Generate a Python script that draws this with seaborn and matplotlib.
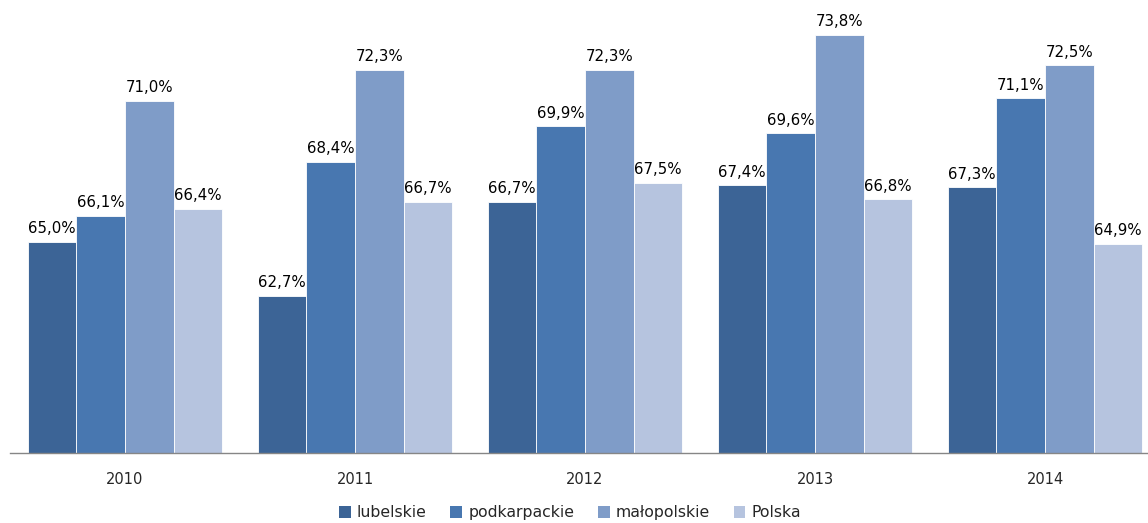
import matplotlib
matplotlib.use("Agg")
import matplotlib.pyplot as plt
import seaborn as sns
import pandas as pd
from matplotlib.patches import Patch

years = ["2010", "2011", "2012", "2013", "2014"]
series = ["lubelskie", "podkarpackie", "małopolskie", "Polska"]
lubelskie = [65.0, 62.7, 66.7, 67.4, 67.3]
podkarpackie = [66.1, 68.4, 69.9, 69.6, 71.1]
malopolskie = [71.0, 72.3, 72.3, 73.8, 72.5]
polska = [66.4, 66.7, 67.5, 66.8, 64.9]
colors = ["#3C6496", "#4877B0", "#7F9CC8", "#B6C4DF"]

rows = []
for name, vals in zip(series, [lubelskie, podkarpackie, malopolskie, polska]):
    for y, v in zip(years, vals):
        rows.append({"rok": y, "seria": name, "wartosc": v})
df = pd.DataFrame(rows)

sns.set_style("white")
plt.rcParams["font.family"] = ["DejaVu Sans"]

W, H = 1148, 523
fig = plt.figure(figsize=(W / 100, H / 100), dpi=100)
ax = fig.add_axes([10 / W, 70 / H, 1150 / W, 453 / H])

sns.barplot(data=df, x="rok", y="wartosc", hue="seria", order=years,
            hue_order=series, palette=colors, width=0.845, gap=0,
            saturation=1, ax=ax, legend=False, edgecolor="white", linewidth=0.6)

ax.set_xlim(-0.5, 4.5)
ax.set_ylim(56, 56 + 453 / 23.5)

for cont in ax.containers:
    labels = [f"{b.get_height():.1f}%".replace(".", ",") for b in cont]
    ax.bar_label(cont, labels=labels, padding=4, fontsize=10.8, color="#000000")

for s in ["top", "right", "left"]:
    ax.spines[s].set_visible(False)
ax.spines["bottom"].set_color("#868686")
ax.spines["bottom"].set_linewidth(1)
ax.set_yticks([])
ax.set_xlabel("")
ax.set_ylabel("")
ax.tick_params(axis="x", length=0, pad=14, labelsize=10.5)

handles = [Patch(facecolor=c, edgecolor="none") for c in colors]
fig.legend(handles, series, loc="lower center", bbox_to_anchor=(570 / W, -0.022),
           ncol=4, frameon=False, fontsize=11.3, handlelength=0.75, handleheight=0.75,
           handletextpad=0.4, columnspacing=1.5)

fig.savefig("out.png", dpi=100)
